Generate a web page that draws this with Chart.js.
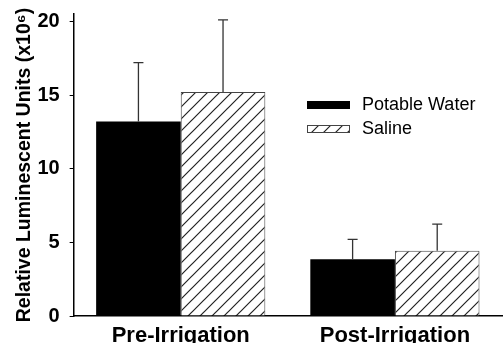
<!DOCTYPE html>
<html>
<head>
<meta charset="utf-8">
<script src="https://cdn.jsdelivr.net/npm/chart.js@4.4.0/dist/chart.umd.min.js"></script>
<style>
  html, body { margin: 0; padding: 0; background: #fff; }
  #wrap { width: 503px; height: 343px; }
</style>
</head>
<body>
<div id="wrap"><canvas id="chart" width="503" height="343"></canvas></div>
<script>
const categories = ['Pre-Irrigation', 'Post-Irrigation'];
const seriesNames = ['Potable Water', 'Saline'];
const potableMean = [13.2, 3.85];
const potableErr = [4.0, 1.35];
const salineMean = [15.2, 4.43];
const salineErr = [4.9, 1.8];
const yTicks = [0, 5, 10, 15, 20];

function makeHatch() {
  var c = document.createElement('canvas');
  c.width = 12; c.height = 12;
  var g = c.getContext('2d');
  g.fillStyle = '#fff';
  g.fillRect(0, 0, 12, 12);
  g.strokeStyle = '#222';
  g.lineWidth = 1.2;
  g.beginPath();
  g.moveTo(0, 12); g.lineTo(12, 0);
  g.moveTo(-6, 6); g.lineTo(6, -6);
  g.moveTo(6, 18); g.lineTo(18, 6);
  g.stroke();
  return g.createPattern(c, 'repeat');
}
const hatch = makeHatch();

// upward error bars with caps
const errorBars = {
  id: 'errorBars',
  afterDatasetsDraw(chart) {
    const ctx = chart.ctx;
    const y = chart.scales.y;
    chart.data.datasets.forEach(function(ds, di) {
      const meta = chart.getDatasetMeta(di);
      meta.data.forEach(function(bar, i) {
        const top = y.getPixelForValue(ds.data[i] + ds.errors[i]);
        ctx.save();
        ctx.strokeStyle = '#333';
        ctx.lineWidth = 1.3;
        ctx.beginPath();
        ctx.moveTo(bar.x, bar.y);
        ctx.lineTo(bar.x, top);
        ctx.moveTo(bar.x - 5, top);
        ctx.lineTo(bar.x + 5, top);
        ctx.stroke();
        ctx.restore();
      });
    });
  }
};

const boxLegend = {
  id: 'boxLegend',
  afterDraw(chart) {
    const ctx = chart.ctx;
    const x0 = 307, rows = [101, 125];
    ctx.save();
    chart.data.datasets.forEach(function(ds, i) {
      const yy = rows[i];
      ctx.fillStyle = ds.backgroundColor;
      ctx.fillRect(x0, yy, 43, 8);
      ctx.strokeStyle = ds.borderColor;
      ctx.lineWidth = 1;
      ctx.strokeRect(x0 + 0.5, yy + 0.5, 42, 7);
      ctx.fillStyle = '#000';
      ctx.font = '18px "Liberation Sans", Arial, sans-serif';
      ctx.textBaseline = 'middle';
      ctx.fillText(ds.label, 362, yy + 4);
    });
    ctx.restore();
  }
};

new Chart(document.getElementById('chart'), {
  type: 'bar',
  data: {
    labels: categories,
    datasets: [
      {
        label: seriesNames[0],
        data: potableMean,
        errors: potableErr,
        backgroundColor: '#000',
        borderColor: '#000',
        borderWidth: 0
      },
      {
        label: seriesNames[1],
        data: salineMean,
        errors: salineErr,
        backgroundColor: hatch,
        borderColor: '#444',
        borderWidth: 1
      }
    ]
  },
  options: {
    responsive: false,
    animation: false,
    layout: { padding: { left: 12, right: 1, top: 0, bottom: -13 } },
    plugins: { legend: { display: false }, tooltip: { enabled: false } },
    datasets: { bar: { categoryPercentage: 0.79, barPercentage: 1.0 } },
    scales: {
      x: {
        grid: { display: false, drawTicks: false },
        border: { color: '#000', width: 1.5 },
        ticks: {
          color: '#000',
          padding: 9,
          font: { family: '"Liberation Sans", Arial, sans-serif', size: 22, weight: 'bold', lineHeight: 1 }
        }
      },
      y: {
        min: 0,
        max: 20.5,
        afterBuildTicks: function(scale) {
          scale.ticks = yTicks.map(function(v) { return { value: v }; });
        },
        grid: { drawOnChartArea: false, tickLength: 4, color: '#000' },
        border: { color: '#000', width: 1.5 },
        ticks: {
          color: '#000',
          padding: 10,
          font: { family: '"Liberation Sans", Arial, sans-serif', size: 20, weight: 'bold', lineHeight: 0.4 }
        },
        title: {
          display: true,
          text: 'Relative Luminescent Units (x10\u2076)',
          color: '#000',
          padding: { top: 1, bottom: -9 },
          font: { family: '"Liberation Sans", Arial, sans-serif', size: 19.5, weight: 'bold' }
        }
      }
    }
  },
  plugins: [errorBars, boxLegend]
});
</script>
</body>
</html>
